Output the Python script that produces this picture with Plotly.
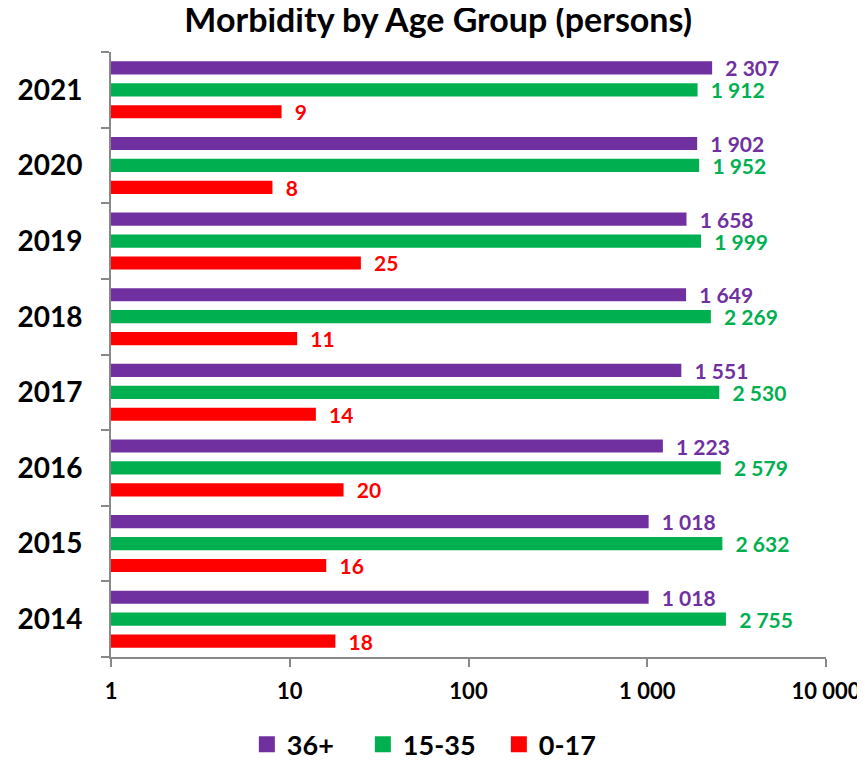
import plotly.graph_objects as go

years = ["2014", "2015", "2016", "2017", "2018", "2019", "2020", "2021"]
age_36_plus = [1018, 1018, 1223, 1551, 1649, 1658, 1902, 2307]
age_15_35 = [2755, 2632, 2579, 2530, 2269, 1999, 1952, 1912]
age_0_17 = [18, 16, 20, 14, 11, 25, 8, 9]

x_tick_vals = [1, 10, 100, 1000, 10000]
x_tick_text = ["1", "10", "100", "1 000", "10 000"]

FONT = "Lato, 'Open Sans', sans-serif"

series = [
    ("0-17", age_0_17, "#FF0000", 60),
    ("15-35", age_15_35, "#00B050", 91),
    ("36+", age_36_plus, "#7030A0", 71),
]

fig = go.Figure()
for name, vals, color, lw in series:
    fig.add_trace(go.Bar(
        y=years, x=vals, name=name, orientation="h",
        marker=dict(color=color, line=dict(width=0)),
        text=vals, texttemplate="\u00a0\u00a0%{x:,}", textposition="outside",
        constraintext="none",
        textfont=dict(color=color, size=21, family=FONT, weight="bold"),
        cliponaxis=False, showlegend=False, legendgroup=name,
    ))
# legend entries with square swatches
for name, vals, color, lw in series:
    fig.add_trace(go.Scatter(
        x=[None], y=[None], mode="markers", name=name, legendgroup=name,
        legendwidth=lw,
        marker=dict(symbol="square", size=17, color=color),
    ))

# the page body adds an 8px offset, so the figure is 8px smaller
fig.update_layout(
    width=857, height=753,
    paper_bgcolor="white", plot_bgcolor="white",
    separators=". ",
    barmode="group", bargap=0.13, bargroupgap=0.4,
    margin=dict(l=103, r=39, t=44, b=104, autoexpand=False),
    title=dict(text="<b>Morbidity by Age Group (persons)</b>", x=0.502, xanchor="center",
               y=1.0, yanchor="top", pad=dict(t=0, b=0),
               font=dict(family=FONT, size=34, color="black")),
    font=dict(family=FONT, color="black"),
    legend=dict(orientation="h", x=0.19, xanchor="left", y=-0.145, yanchor="middle",
                traceorder="reversed",
                font=dict(size=27, family=FONT, weight="bold", color="black"),
                itemwidth=30),
    showlegend=True,
)
fig.update_xaxes(
    type="log", range=[0, 4],
    tickvals=x_tick_vals, ticktext=x_tick_text,
    showgrid=False, zeroline=False,
    showline=True, linecolor="#888888", linewidth=2,
    ticks="outside", ticklen=8, tickcolor="#888888", tickwidth=2,
    ticklabelstandoff=6,
    tickfont=dict(size=22, family=FONT, weight="bold", color="black"),
)
fig.update_yaxes(
    type="category", categoryorder="array", categoryarray=years,
    showgrid=False, zeroline=False,
    showline=True, linecolor="#888888", linewidth=2,
    ticks="outside", tickson="boundaries", ticklen=8, tickcolor="#888888", tickwidth=2,
    ticklabelstandoff=21,
    tickfont=dict(size=28, family=FONT, weight="bold", color="black"),
)

fig.write_html("out.html")
